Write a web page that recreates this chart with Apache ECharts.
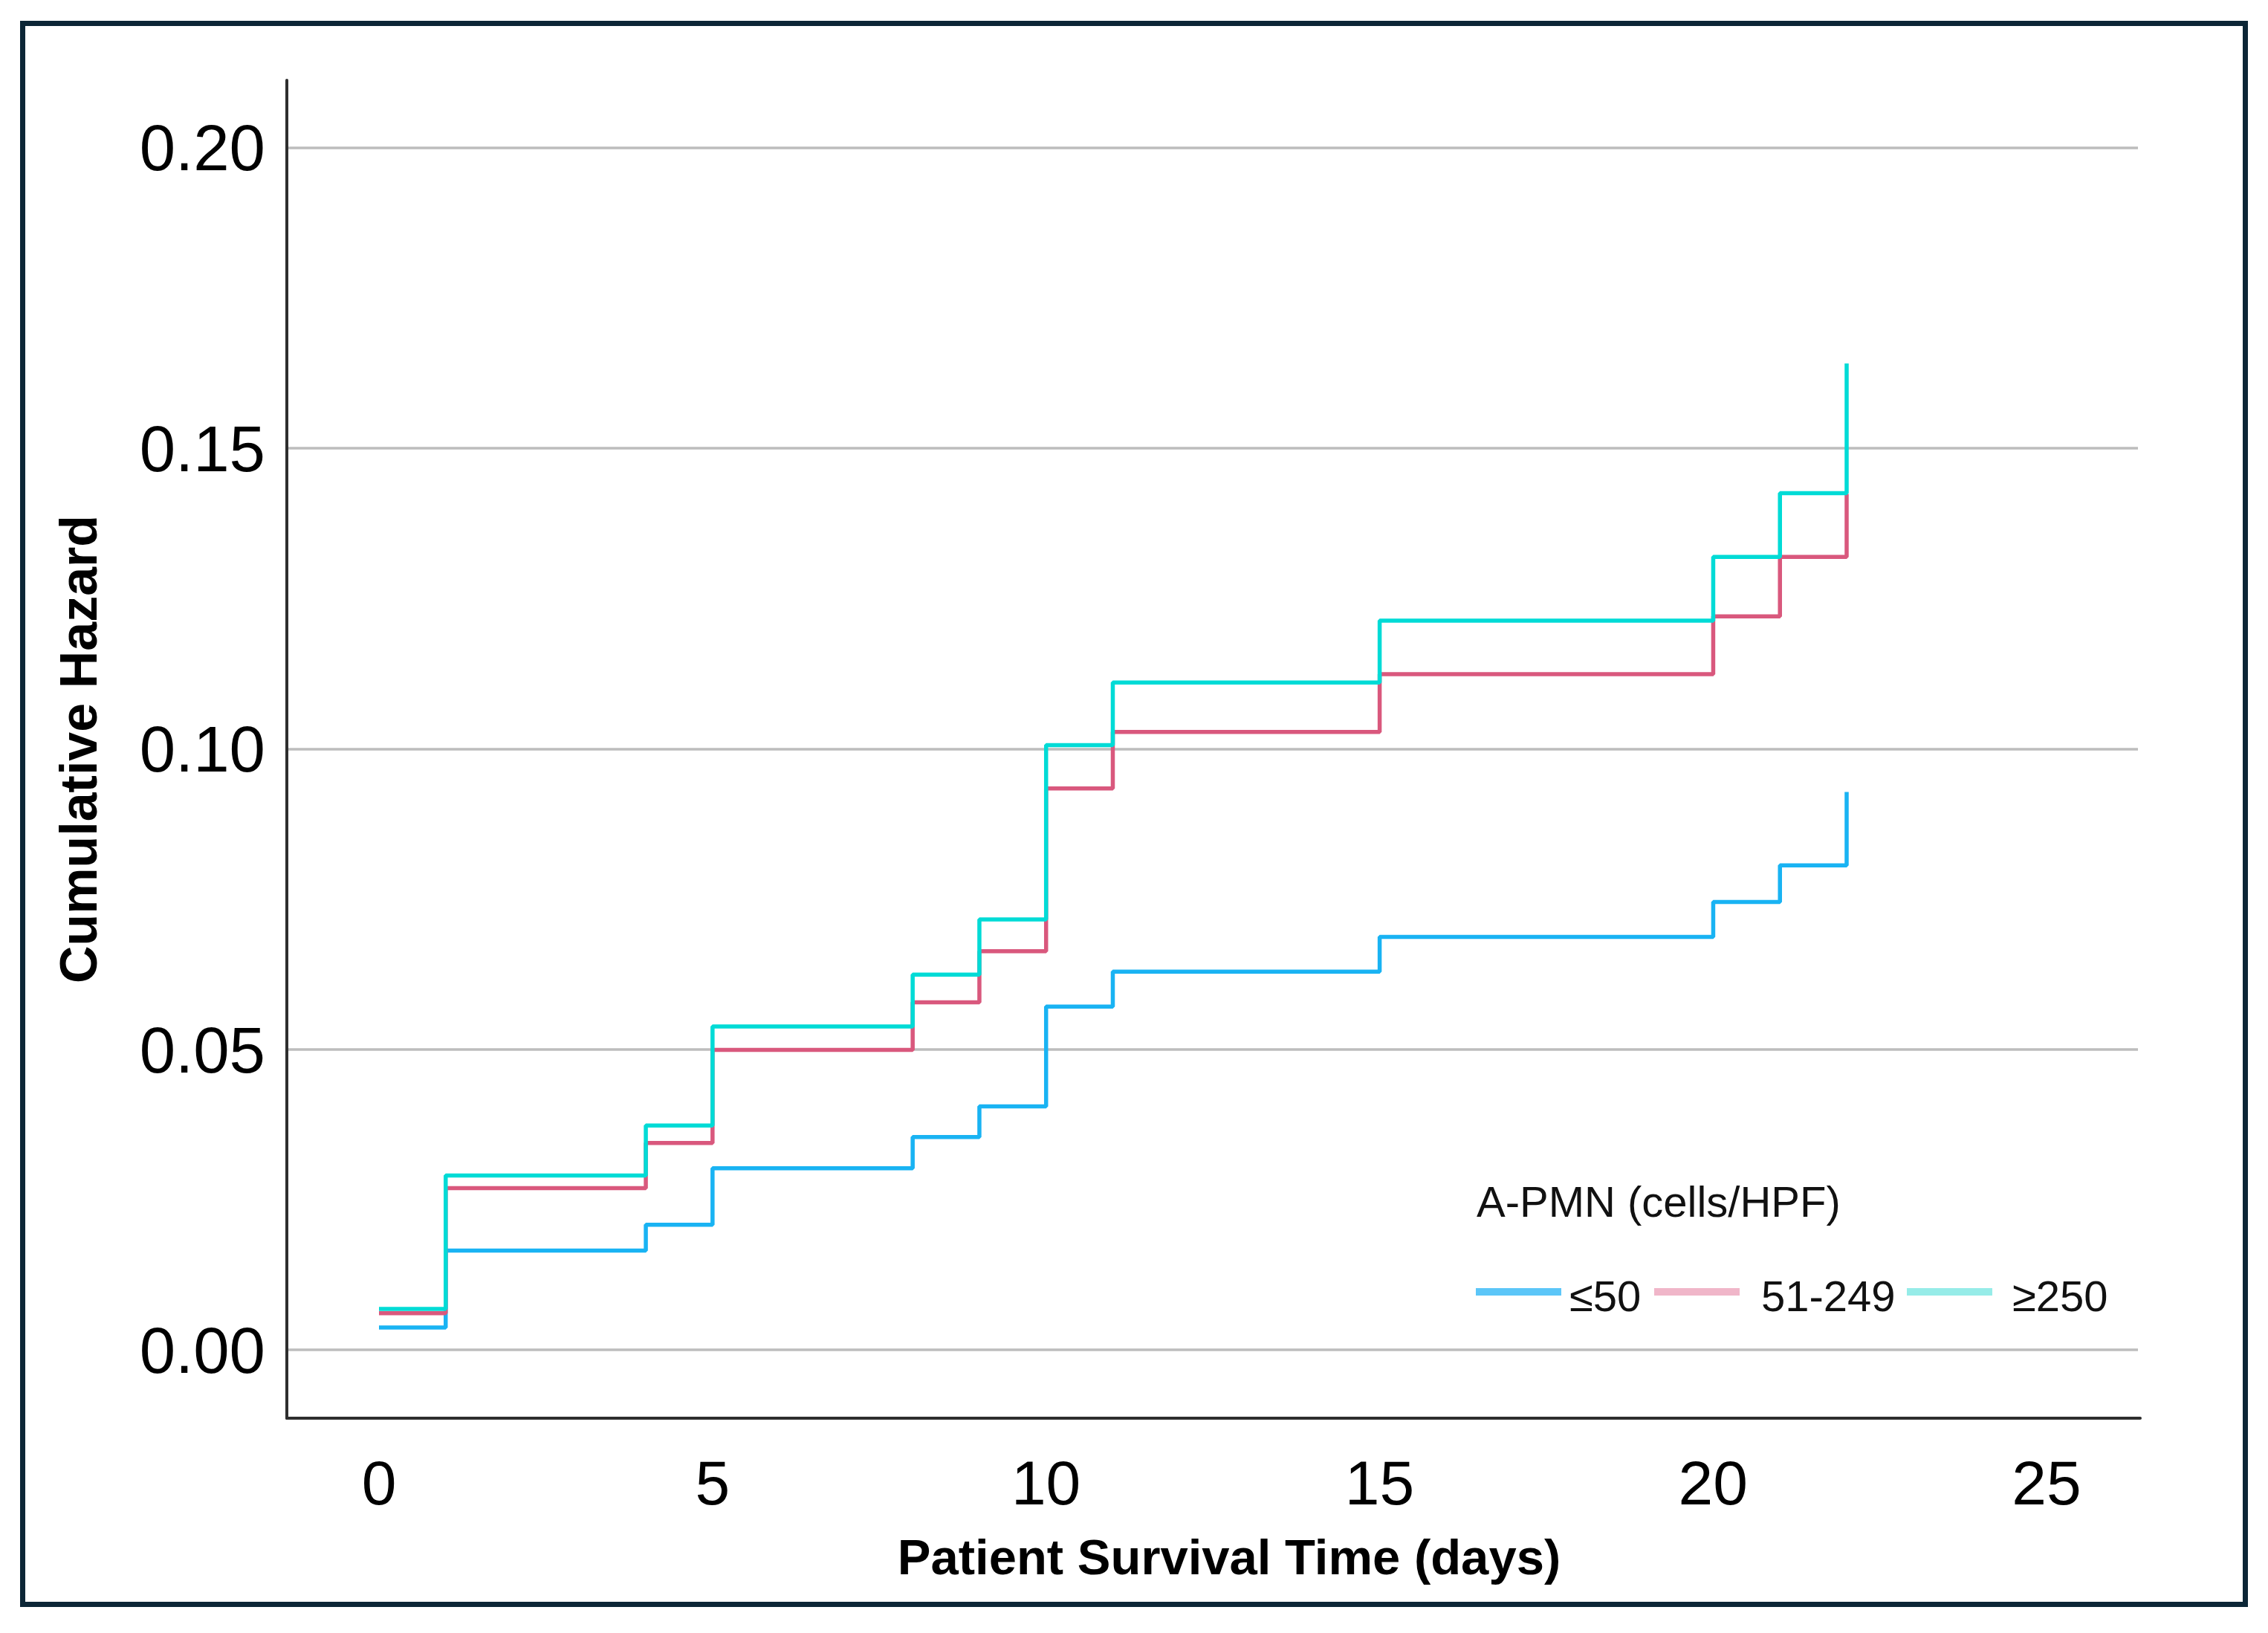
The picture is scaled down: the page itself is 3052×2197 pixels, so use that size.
<!DOCTYPE html>
<html>
<head>
<meta charset="utf-8">
<script src="https://cdn.jsdelivr.net/npm/echarts@6/dist/echarts.min.js"></script>
<style>
html,body{margin:0;padding:0;background:#ffffff;}
#chart{width:3052px;height:2197px;}
</style>
</head>
<body>
<div id="chart"></div>
<script>
// ---- data ----
const times = [0, 1, 4, 5, 8, 9, 10, 11, 15, 20, 21, 22];
const hazardLow  = [0.0037, 0.0165, 0.0208, 0.0302, 0.0354, 0.0405, 0.0571, 0.0629, 0.0687, 0.0745, 0.0806, 0.0928];
const hazardMid  = [0.0061, 0.0269, 0.0344, 0.0499, 0.0578, 0.0663, 0.0934, 0.1028, 0.1124, 0.1220, 0.1319, 0.1424];
const hazardHigh = [0.0068, 0.0290, 0.0373, 0.0538, 0.0624, 0.0716, 0.1006, 0.1110, 0.1213, 0.1319, 0.1425, 0.1641];
const groupNames = ['≤50', '51-249', '≥250'];
const legendTitle = 'A-PMN (cells/HPF)';
const xTickValues = [0, 5, 10, 15, 20, 25];
const yTickValues = [0.00, 0.05, 0.10, 0.15, 0.20];
const xTitle = 'Patient Survival Time (days)';
const yTitle = 'Cumulative Hazard';

// ---- styles ----
const FONT = '"Liberation Sans", Arial, Helvetica, sans-serif';
const lineColors = ['#19b3f3', '#d9587d', '#00dbd6'];
const legendColors = ['#5cc6f8', '#f0b6c9', '#96ece8'];
// swatch drawn in the upper part of the icon box so the label sits slightly lower
const swatchIcon = 'path://M0 0h115v10h-115z M0 30h0.01v0.01h-0.01z';

function pairs(xs, ys) { return xs.map((x, i) => [x, ys[i]]); }
const seriesValues = [hazardLow, hazardMid, hazardHigh];

const chart = echarts.init(document.getElementById('chart'), null, {renderer: 'canvas'});

const legendLefts = [1986, 2226, 2566];
const legendPadLeft = [6, 24, 22];

const option = {
  backgroundColor: '#ffffff',
  animation: false,
  title: {
    text: legendTitle,
    left: 1987, top: 1592, padding: 0,
    textStyle: {fontFamily: FONT, fontSize: 58, fontWeight: 'normal', color: '#111111', lineHeight: 58}
  },
  legend: groupNames.map((n, i) => ({
    data: [{name: n, icon: swatchIcon, itemStyle: {color: legendColors[i]}}],
    left: legendLefts[i], top: 1719, padding: 0,
    itemWidth: 115, itemHeight: 30,
    textStyle: {fontFamily: FONT, fontSize: 58, color: '#111111', lineHeight: 58, padding: [0, 0, 0, legendPadLeft[i]]}
  })),
  grid: [
    {left: 386, top: 108, width: 2494, height: 1800},
    {left: 386, top: 198.5, width: 2491, height: 1617.5},
    {left: 510, top: 108, width: 2244, height: 1800}
  ],
  xAxis: [
    {
      gridIndex: 0, type: 'value', min: -1.381, max: 26.40,
      axisLine: {show: true, onZero: false, lineStyle: {color: '#2e2e2e', width: 4}},
      axisTick: {show: false}, axisLabel: {show: false}, splitLine: {show: false},
      name: xTitle, nameLocation: 'middle', nameGap: 158,
      nameTextStyle: {fontFamily: FONT, fontSize: 67, fontWeight: 'bold', color: '#000000', lineHeight: 67, padding: [0, 0, 0, 42]}
    },
    {gridIndex: 1, type: 'value', min: 0, max: 1, show: false},
    {
      gridIndex: 2, type: 'value',
      min: xTickValues[0], max: xTickValues[xTickValues.length - 1], interval: xTickValues[1] - xTickValues[0],
      axisLine: {show: false}, axisTick: {show: false}, splitLine: {show: false},
      axisLabel: {fontFamily: FONT, fontSize: 84, margin: 51, color: '#000000'}
    }
  ],
  yAxis: [
    {
      gridIndex: 0, type: 'value', min: -0.01138, max: 0.2112,
      axisLine: {show: true, onZero: false, lineStyle: {color: '#2e2e2e', width: 4}},
      axisTick: {show: false}, axisLabel: {show: false}, splitLine: {show: false},
      name: yTitle, nameLocation: 'middle', nameGap: 240,
      nameTextStyle: {fontFamily: FONT, fontSize: 70, fontWeight: 'bold', color: '#000000', lineHeight: 70}
    },
    {
      gridIndex: 1, type: 'value',
      min: yTickValues[0], max: yTickValues[yTickValues.length - 1], interval: yTickValues[1] - yTickValues[0],
      axisLine: {show: false}, axisTick: {show: false},
      splitLine: {show: true, lineStyle: {color: '#bdbdbd', width: 3.5}},
      axisLabel: {fontFamily: FONT, fontSize: 87, margin: 29, color: '#000000', verticalAlign: 'top', lineHeight: 14, formatter: v => v.toFixed(2)}
    },
    {gridIndex: 2, type: 'value', min: 0, max: 1, show: false}
  ],
  series: groupNames.map((n, i) => ({
    name: n, type: 'line', step: 'end',
    xAxisIndex: 0, yAxisIndex: 0,
    data: pairs(times, seriesValues[i]),
    showSymbol: false, symbol: 'none',
    lineStyle: {color: lineColors[i], width: 5.5},
    itemStyle: {color: lineColors[i]},
    z: 3 + i
  })),
  graphic: [{
    type: 'rect', silent: true, z: 100,
    shape: {x: 30.5, y: 31.5, width: 2991, height: 2127},
    style: {fill: 'none', stroke: '#0c2636', lineWidth: 7}
  }]
};
chart.setOption(option);
</script>
</body>
</html>
